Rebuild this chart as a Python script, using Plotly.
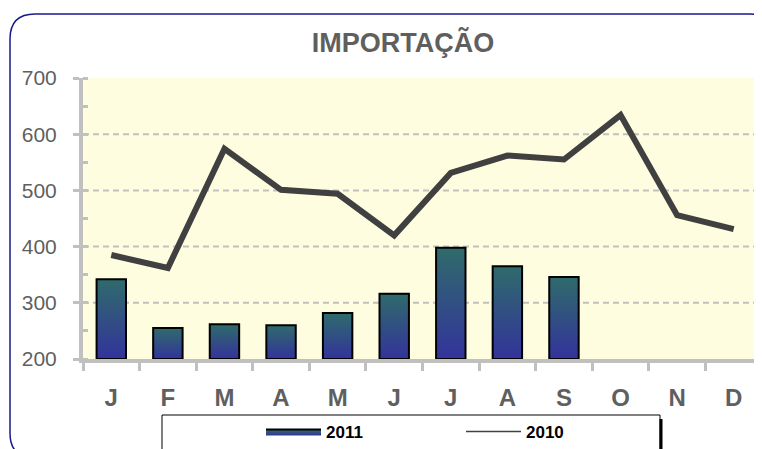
import plotly.graph_objects as go

# page body adds an 8px margin, so the figure is drawn 8px in
OFF = 8
W, H = 762 - OFF, 449 - OFF

meses = ["J", "F", "M", "A", "M", "J", "J", "A", "S", "O", "N", "D"]
imp_2011 = [342, 255, 262, 260, 282, 316, 398, 365, 346]
imp_2010 = [385, 362, 574, 501, 494, 420, 531, 562, 555, 634, 456, 431]

# plot area in window pixels
L, R, T, B = 83, 762, 78, 359
y_min, y_max = 200, 700


def px(x, y):
    # window pixel -> paper coords
    return (x - L) / (R - L), (B - y) / (B - T)


fig = go.Figure()

meia = 0.26
for i, v in enumerate(imp_2011):
    fig.add_trace(go.Scatter(
        x=[i - meia, i - meia, i + meia, i + meia, i - meia],
        y=[y_min, v, v, y_min, y_min],
        mode="lines", fill="toself",
        fillgradient=dict(type="vertical", start=y_min, stop=v,
                          colorscale=[[0, "#33339b"], [1, "#2f6b6b"]]),
        line=dict(color="#000000", width=2),
        name="2011", legendgroup="2011", showlegend=(i == 0),
        hoverinfo="skip"))

fig.add_trace(go.Scatter(
    x=list(range(len(meses))), y=imp_2010,
    mode="lines", line=dict(color="#404040", width=6),
    name="2010", showlegend=False))
fig.add_trace(go.Scatter(
    x=[None], y=[None], mode="lines",
    line=dict(color="#404040", width=1.5), name="2010"))

# gridlines
for g in [300, 400, 500, 600]:
    fig.add_shape(type="line", xref="paper", yref="y", x0=0, x1=1, y0=g, y1=g,
                  line=dict(color="#c0c0c0", width=2, dash="6px,4px"), layer="below")

# rounded frame
x0, y0 = px(10, 14)
x1, y1 = px(775, 458)
rx, ry = 25 / (R - L), 25 / (B - T)
caminho = (f"M {x0},{y1 + ry} L {x0},{y0 - ry} Q {x0},{y0} {x0 + rx},{y0} "
           f"L {x1 - rx},{y0} Q {x1},{y0} {x1},{y0 - ry} L {x1},{y1 + ry} "
           f"Q {x1},{y1} {x1 - rx},{y1} L {x0 + rx},{y1} Q {x0},{y1} {x0},{y1 + ry} Z")
fig.add_shape(type="path", xref="paper", yref="paper", path=caminho,
              line=dict(color="#1a1a8c", width=1.5))

# legend box
lx0, ly0 = px(162, 415)
lx1, ly1 = px(660, 470)
fig.add_shape(type="rect", xref="paper", yref="paper", x0=lx0, x1=lx1, y0=ly0, y1=ly1,
              line=dict(color="#000000", width=1))
sx, sy0 = px(661, 419)
_, sy1 = px(661, 449)
fig.add_shape(type="line", xref="paper", yref="paper", x0=sx, x1=sx, y0=sy0, y1=sy1,
              line=dict(color="#000000", width=3))

fig.update_layout(
    width=W, height=H,
    margin=dict(l=L - OFF, r=W - (R - OFF), t=T - OFF, b=H - (B - OFF), autoexpand=False),
    paper_bgcolor="#ffffff", plot_bgcolor="#fffde0",
    font=dict(family="Liberation Sans, Arial, sans-serif", color="#595959"),
    title=dict(text="<b>IMPORTAÇÃO</b>", x=(403 - OFF) / W, xanchor="center",
               y=1 - (43 - OFF) / H, yanchor="middle", font=dict(size=27, color="#5f5f5f")),
    showlegend=True,
    legend=dict(orientation="h", x=px(261, 0)[0], xanchor="left",
                y=px(0, 432)[1], yanchor="middle",
                entrywidth=130, entrywidthmode="pixels", itemwidth=55,
                bgcolor="rgba(0,0,0,0)",
                font=dict(size=17, color="#000000", weight="bold")),
    hovermode=False,
)

fig.update_xaxes(
    range=[-0.5, len(meses) - 0.5],
    tickvals=list(range(len(meses))), ticktext=meses,
    tickfont=dict(size=24, weight="bold", color="#5f5f5f"),
    ticks="", ticklabelstandoff=14,
    showline=True, linecolor="#c0c0c0", linewidth=4,
    showgrid=False, zeroline=False,
    minor=dict(tickvals=[i - 0.5 for i in range(len(meses) + 1)],
               ticks="outside", ticklen=8, tickwidth=3, tickcolor="#c0c0c0", showgrid=False),
)
fig.update_yaxes(
    range=[y_min, y_max],
    tickvals=[200, 300, 400, 500, 600, 700],
    tickfont=dict(size=21, color="#5f5f5f"),
    ticks="outside", ticklen=6, tickwidth=3, tickcolor="#c0c0c0",
    ticklabelstandoff=12,
    showline=True, linecolor="#c0c0c0", linewidth=4,
    showgrid=False, zeroline=False,
    minor=dict(dtick=50, ticks="inside", ticklen=5, tickwidth=3,
               tickcolor="#c0c0c0", showgrid=False),
)

fig.write_html("out.html")
